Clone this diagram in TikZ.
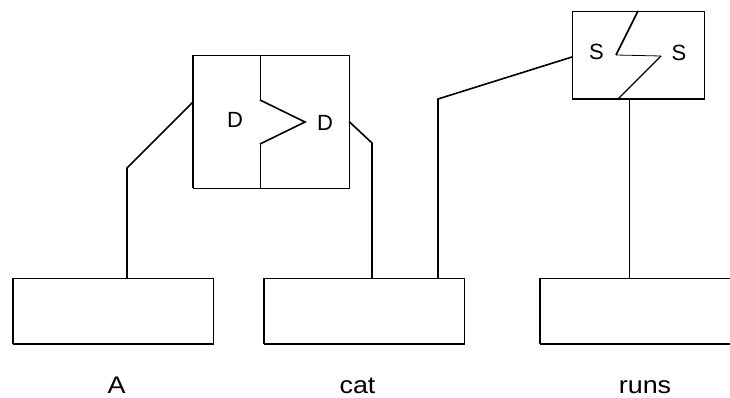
\documentclass[tikz,border=0pt]{standalone}
\usepackage{fontspec}
\setmainfont{Liberation Sans}
\usetikzlibrary{calc}
\begin{document}
\begin{tikzpicture}[x=1pt,y=-1pt,
  box/.style={draw, line width=0.9pt, inner sep=0pt, outer sep=0pt},
  leaf/.style={box, minimum width=200pt, minimum height=66pt},
  heavy/.style={line width=1.9pt},
  conn/.style={line width=1.6pt},
  thinconn/.style={line width=0.9pt},
  smalllbl/.style={anchor=base, inner sep=0pt, font=\fontsize{22}{26}\selectfont},
  biglbl/.style={anchor=base, inner sep=0pt, xscale=1.12, font=\fontsize{24}{28}\selectfont}]
\useasboundingbox (0,0) rectangle (730,398);
\clip (0,0) rectangle (730,398);
% leaf boxes
\node[leaf] (boxA) at (113,311) {};
\node[leaf] (boxCat) at (364,311) {};
\node[leaf] (boxRuns) at (640,311) {};
\foreach \b in {boxA,boxCat,boxRuns}{
  \draw[heavy] (\b.south west) -- (\b.south east);
  \draw[line width=1.3pt] (\b.south west) -- (\b.north west);
}
% D box
\node[box, minimum width=156pt, minimum height=133pt] (Dbox) at (271,121.5) {};
\draw[line width=1.4pt] (Dbox.south west) -- (Dbox.north west);
\coordinate (dTop) at (260,55);
\coordinate (dN1) at (260,100);
\coordinate (dTip) at (305,122);
\coordinate (dN2) at (260,144);
\coordinate (dBot) at (260,188);
\draw[line width=0.9pt] (dTop) -- (dN1);
\draw[line width=1.6pt] (dN1) -- (dTip) -- (dN2);
\draw[line width=0.9pt] (dN2) -- (dBot);
\node[smalllbl] (dl) at (235,128) {D};
\node[smalllbl] (dr) at (325,131) {D};
% S box
\node[box, minimum width=132pt, minimum height=88pt] (Sbox) at (638,55) {};
\draw[heavy] (Sbox.south west) -- (Sbox.south east);
\coordinate (sTop) at (638,11);
\coordinate (sM1) at (616,55);
\coordinate (sM2) at (661,56);
\coordinate (sBot) at (618,99);
\draw[line width=1.7pt] (sTop) -- (sM1);
\draw[line width=0.8pt] (sM1) -- (sM2);
\draw[line width=1.3pt] (sM2) -- (sBot);
\node[smalllbl] (sl) at (596.5,60) {S};
\node[smalllbl] (sr) at (679,61) {S};
% connectors
\coordinate (aBend) at (127,168);
\draw[conn] (boxA.north -| aBend) -- (aBend) -- ($(Dbox.north west)+(0,47)$);
\coordinate (cBend1) at (372,143);
\draw[conn] (Dbox.east) -- (cBend1) -- (boxCat.north -| cBend1);
\coordinate (cBend2) at (438,99);
\draw[conn] ($(Sbox.west)+(0,2)$) -- (cBend2) -- (boxCat.north -| cBend2);
\coordinate (rLine) at (629,0);
\draw[thinconn] (Sbox.south -| rLine) -- (boxRuns.north -| rLine);
% word labels
\node[biglbl] (lA) at (116.5,393) {A};
\node[biglbl] (lCat) at (357.5,393) {cat};
\node[biglbl] (lRuns) at (645,393) {runs};
\end{tikzpicture}
\end{document}
